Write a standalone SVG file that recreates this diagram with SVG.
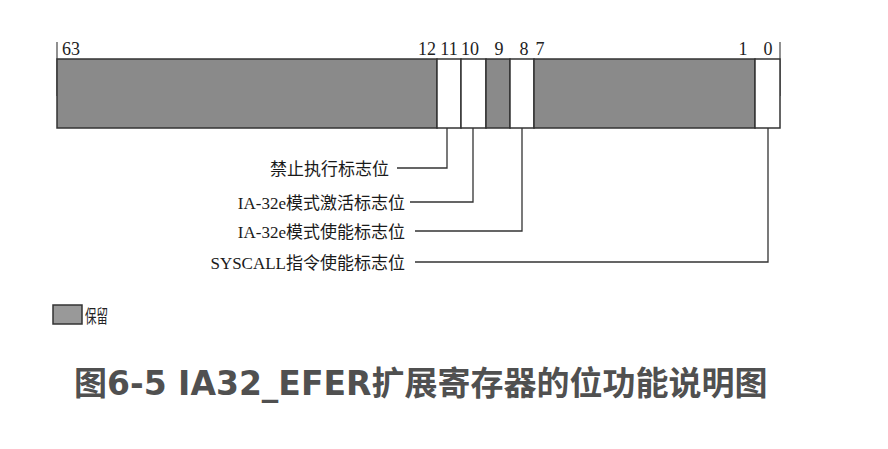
<svg xmlns="http://www.w3.org/2000/svg" width="888" height="449" viewBox="0 0 888 449">
<style>
.bit{font-family:"Liberation Serif","Noto Sans CJK SC",serif;font-size:18px;fill:#222;text-anchor:middle}
.lbl{font-family:"Liberation Serif","Noto Sans CJK SC",serif;font-size:17px;fill:#1a1a1a;text-anchor:end}
.gray{fill:#8a8a8a;stroke:#333;stroke-width:1.5}
.white{fill:#fff;stroke:#333;stroke-width:1.5}
.conn{fill:none;stroke:#333;stroke-width:1.3}
.title{font-family:"DejaVu Sans","Noto Sans CJK SC",sans-serif;font-weight:bold;font-size:33px;fill:#505050}
</style>
<rect width="888" height="449" fill="#fff"/>
<g id="register">
  <line x1="57" y1="42" x2="57" y2="96" stroke="#555" stroke-width="1.3"/>
  <line x1="780" y1="42" x2="780" y2="96" stroke="#555" stroke-width="1.3"/>
  <rect class="gray" x="57" y="59" width="380" height="69"/>
  <rect class="white" x="437" y="59" width="24" height="69"/>
  <rect class="white" x="461" y="59" width="25" height="69"/>
  <rect class="gray" x="486" y="59" width="24" height="69"/>
  <rect class="white" x="510" y="59" width="24" height="69"/>
  <rect class="gray" x="534" y="59" width="221" height="69"/>
  <rect class="white" x="755" y="59" width="25" height="69"/>
</g>
<g id="bit-labels">
  <text class="bit" x="71" y="55">63</text>
  <text class="bit" x="427" y="55">12</text>
  <text class="bit" x="449" y="55">11</text>
  <text class="bit" x="470" y="55">10</text>
  <text class="bit" x="499" y="55">9</text>
  <text class="bit" x="524" y="55">8</text>
  <text class="bit" x="540" y="55">7</text>
  <text class="bit" x="743" y="55">1</text>
  <text class="bit" x="768" y="55">0</text>
</g>
<g id="connectors">
  <polyline class="conn" points="447,128 447,168 397,168"/>
  <polyline class="conn" points="473,128 473,202 410,202"/>
  <polyline class="conn" points="522,128 522,231 415,231"/>
  <polyline class="conn" points="768,128 768,262 415,262"/>
</g>
<g id="label-nx"><text class="lbl" x="389" y="175">禁止执行标志位</text></g>
<g id="label-lma"><text class="lbl" x="405" y="209">IA-32e模式激活标志位</text></g>
<g id="label-lme"><text class="lbl" x="405" y="238">IA-32e模式使能标志位</text></g>
<g id="label-sce"><text class="lbl" x="405" y="269">SYSCALL指令使能标志位</text></g>
<g id="legend">
  <rect x="53" y="305" width="29" height="19" fill="#999" stroke="#333" stroke-width="1.5"/>
  <text x="85" y="323" font-family="Noto Sans CJK SC, sans-serif" font-size="18" fill="#222" textLength="23" lengthAdjust="spacingAndGlyphs">保留</text>
</g>
<text class="title" x="74" y="395">图6-5 IA32_EFER扩展寄存器的位功能说明图</text>
</svg>
